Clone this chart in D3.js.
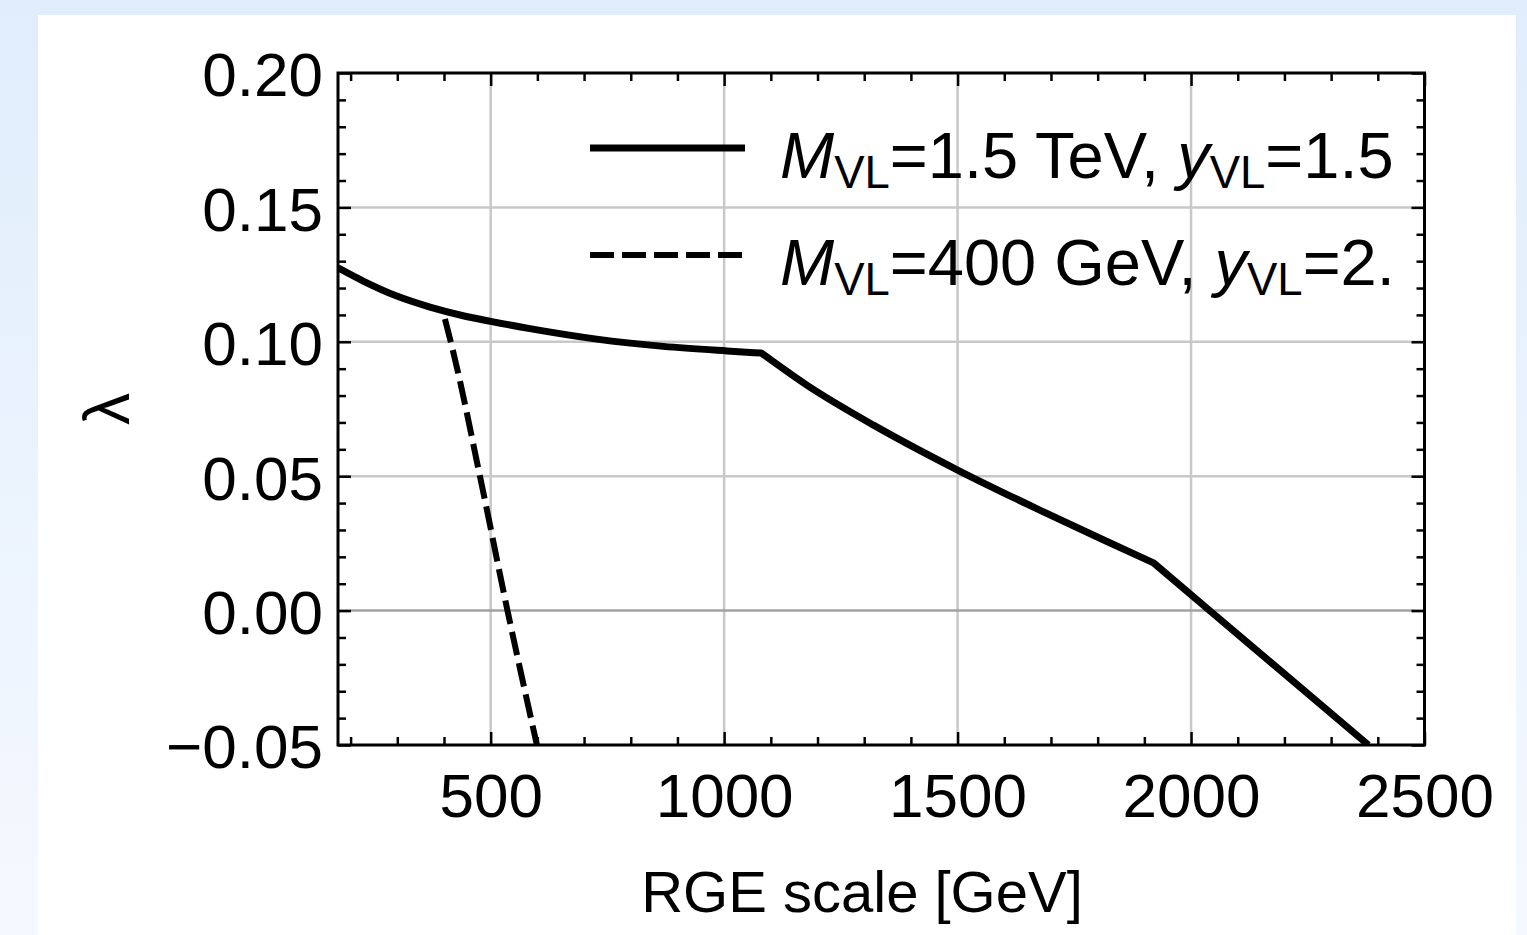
<!DOCTYPE html>
<html>
<head>
<meta charset="utf-8">
<script src="https://cdn.jsdelivr.net/npm/d3@7"></script>
<style>
  html, body { margin: 0; padding: 0; }
  body { width: 1527px; height: 935px; overflow: hidden; }
  text { font-family: "Liberation Sans", Arial, Helvetica, sans-serif; fill: #000; }
</style>
</head>
<body>
<script>
// ---- data ----
const solidX = [173, 227, 299, 370, 441, 500, 584, 727, 870, 1006, 1080, 1177, 1320, 1500, 1677, 1820, 1920, 2040, 2380];
const solidY = [0.1275, 0.1226, 0.1170, 0.1129, 0.1097, 0.1076, 0.1049, 0.1010, 0.0983, 0.0966, 0.0958, 0.0839, 0.0690, 0.0523, 0.0373, 0.0257, 0.0177, 0.0, -0.05];
const solidKinks = [1080, 1920];
const dashX = [402, 414.5, 477, 536, 599];
const dashY = [0.1085, 0.10, 0.05, 0.0, -0.05];
const xTickValues = [500, 1000, 1500, 2000, 2500];
const xTickLabels = ["500", "1000", "1500", "2000", "2500"];
const yTickValues = [-0.05, 0.00, 0.05, 0.10, 0.15, 0.20];
const yTickLabels = ["\u22120.05", "0.00", "0.05", "0.10", "0.15", "0.20"];
const xMinorValues = d3.range(200, 2501, 100);
const yMinorValues = d3.range(-5, 21, 1).map(d => d / 100);
const xGridValues = [500, 1000, 1500, 2000];
const yGridValues = [0.05, 0.10, 0.15];
const legendLabels = [
  { sym: "M", a: "=1.5 TeV, ", sym2: "y", b: "=1.5" },
  { sym: "M", a: "=400 GeV, ", sym2: "y", b: "=2." }
];
const xTitle = "RGE scale [GeV]";
const yTitle = "\u03bb";

// ---- layout ----
const W = 1527, H = 935;
const L = 338, R = 1424.5, T = 73, B = 745;
const FS = 62;

const svg = d3.select("body").append("svg").attr("width", W).attr("height", H);
const defs = svg.append("defs");
const grad = defs.append("linearGradient").attr("id", "bg").attr("x1", 0).attr("y1", 0).attr("x2", 0).attr("y2", 1);
grad.append("stop").attr("offset", "0%").attr("stop-color", "#e0edfc");
grad.append("stop").attr("offset", "100%").attr("stop-color", "#f5f9ff");
svg.append("rect").attr("width", W).attr("height", H).attr("fill", "url(#bg)");
svg.append("rect").attr("x", 38).attr("y", 15).attr("width", 1516 - 38).attr("height", H - 15).attr("fill", "#fff");

defs.append("clipPath").attr("id", "plotclip").append("rect")
  .attr("x", L).attr("y", T).attr("width", R - L).attr("height", B - T);

const x = d3.scaleLinear().domain([173, 2500]).range([L, R]);
const y = d3.scaleLinear().domain([-0.05, 0.20]).range([B, T]);

// grid
const grid = svg.append("g");
grid.selectAll(".gx").data(xGridValues).join("line")
  .attr("x1", d => x(d)).attr("x2", d => x(d)).attr("y1", T).attr("y2", B)
  .attr("stroke", "#c8c8c8").attr("stroke-width", 2.5);
grid.selectAll(".gy").data(yGridValues).join("line")
  .attr("x1", L).attr("x2", R).attr("y1", d => y(d)).attr("y2", d => y(d))
  .attr("stroke", "#c8c8c8").attr("stroke-width", 2.5);
grid.append("line").attr("x1", L).attr("x2", R).attr("y1", y(0)).attr("y2", y(0))
  .attr("stroke", "#a2a2a2").attr("stroke-width", 2.5);

function styleAxis(g) {
  g.select(".domain").remove();
  g.selectAll(".tick line").attr("stroke", "#000").attr("stroke-width", 2.5);
  g.selectAll("text").remove();
}
const majorLen = 13, minorLen = 8;
const xMinorOnly = xMinorValues.filter(v => v % 500 !== 0);
const yMinorOnly = yMinorValues.filter(v => Math.round(v * 100) % 5 !== 0);
svg.append("g").attr("transform", `translate(0,${B})`)
  .call(d3.axisBottom(x).tickValues(xMinorOnly).tickSize(-minorLen)).call(styleAxis);
svg.append("g").attr("transform", `translate(0,${B})`)
  .call(d3.axisBottom(x).tickValues(xTickValues).tickSize(-majorLen)).call(styleAxis);
svg.append("g").attr("transform", `translate(0,${T})`)
  .call(d3.axisTop(x).tickValues(xMinorOnly).tickSize(-minorLen)).call(styleAxis);
svg.append("g").attr("transform", `translate(0,${T})`)
  .call(d3.axisTop(x).tickValues(xTickValues).tickSize(-majorLen)).call(styleAxis);
svg.append("g").attr("transform", `translate(${L},0)`)
  .call(d3.axisLeft(y).tickValues(yMinorOnly).tickSize(-minorLen)).call(styleAxis);
svg.append("g").attr("transform", `translate(${L},0)`)
  .call(d3.axisLeft(y).tickValues(yTickValues).tickSize(-majorLen)).call(styleAxis);
svg.append("g").attr("transform", `translate(${R},0)`)
  .call(d3.axisRight(y).tickValues(yMinorOnly).tickSize(-minorLen)).call(styleAxis);
svg.append("g").attr("transform", `translate(${R},0)`)
  .call(d3.axisRight(y).tickValues(yTickValues).tickSize(-majorLen)).call(styleAxis);

// tick labels
const xLab = svg.append("g").attr("transform", `translate(0,${B})`)
  .call(d3.axisBottom(x).tickValues(xTickValues).tickSize(0).tickFormat((d, i) => xTickLabels[i]));
xLab.select(".domain").remove();
xLab.selectAll("text").attr("y", 72).attr("dy", null)
  .style("font-size", FS + "px").style("font-family", "'Liberation Sans', Arial, sans-serif").attr("fill", "#000");
const yLab = svg.append("g").attr("transform", `translate(${L},0)`)
  .call(d3.axisLeft(y).tickValues(yTickValues).tickSize(0).tickFormat((d, i) => yTickLabels[i]));
yLab.select(".domain").remove();
yLab.selectAll("text").attr("x", -15).attr("dy", "0.37em")
  .style("font-size", FS + "px").style("font-family", "'Liberation Sans', Arial, sans-serif").attr("fill", "#000");

// data lines: smooth within pieces, sharp at the kinks
const solidData = solidX.map((v, i) => [v, solidY[i]]);
const pieces = [];
let cur = [];
solidData.forEach(p => {
  cur.push(p);
  if (solidKinks.includes(p[0])) { pieces.push(cur); cur = [p]; }
});
pieces.push(cur);
const lineM = d3.line().x(d => x(d[0])).y(d => y(d[1])).curve(d3.curveMonotoneX);
const solidPath = pieces.map((pc, i) => {
  const s = lineM(pc);
  return i === 0 ? s : s.replace(/^M[^LC]*/, "L" + x(pc[0][0]) + "," + y(pc[0][1]));
}).join("");
const plot = svg.append("g").attr("clip-path", "url(#plotclip)");
plot.append("path").attr("d", solidPath)
  .attr("fill", "none").attr("stroke", "#000").attr("stroke-width", 7).attr("stroke-linejoin", "round");
const dashData = dashX.map((v, i) => [v, dashY[i]]);
plot.append("path").datum(dashData).attr("d", d3.line().x(d => x(d[0])).y(d => y(d[1])).curve(d3.curveMonotoneY))
  .attr("fill", "none").attr("stroke", "#000").attr("stroke-width", 6).attr("stroke-dasharray", "24,8");

// frame
svg.append("rect").attr("x", L).attr("y", T).attr("width", R - L).attr("height", B - T)
  .attr("fill", "none").attr("stroke", "#000").attr("stroke-width", 3);

// legend
const LFS = 65;
const lg = svg.append("g");
const rowsY = [148, 255];
const dashes = [null, "24,8"];
rowsY.forEach((ry, i) => {
  lg.append("line").attr("x1", 590).attr("x2", 745).attr("y1", ry).attr("y2", ry)
    .attr("stroke", "#000").attr("stroke-width", i === 0 ? 7 : 6)
    .attr("stroke-dasharray", dashes[i]);
  const t = lg.append("text").attr("x", 780).attr("y", ry + 30)
    .style("font-size", LFS + "px").style("white-space", "pre");
  const lab = legendLabels[i];
  t.append("tspan").style("font-style", "italic").text(lab.sym);
  t.append("tspan").style("font-size", "0.7em").attr("dy", 10).text("VL");
  t.append("tspan").attr("dy", -10).text(lab.a);
  t.append("tspan").style("font-style", "italic").text(lab.sym2);
  t.append("tspan").style("font-size", "0.7em").attr("dy", 10).text("VL");
  t.append("tspan").attr("dy", -10).text(lab.b);
});

// axis titles
svg.append("text").attr("x", 862).attr("y", 912).attr("text-anchor", "middle")
  .style("font-size", "58px").text(xTitle);
svg.append("text").attr("transform", `translate(129,409) rotate(-90)`).attr("text-anchor", "middle")
  .style("font-size", "64px").text(yTitle);
</script>
</body>
</html>
